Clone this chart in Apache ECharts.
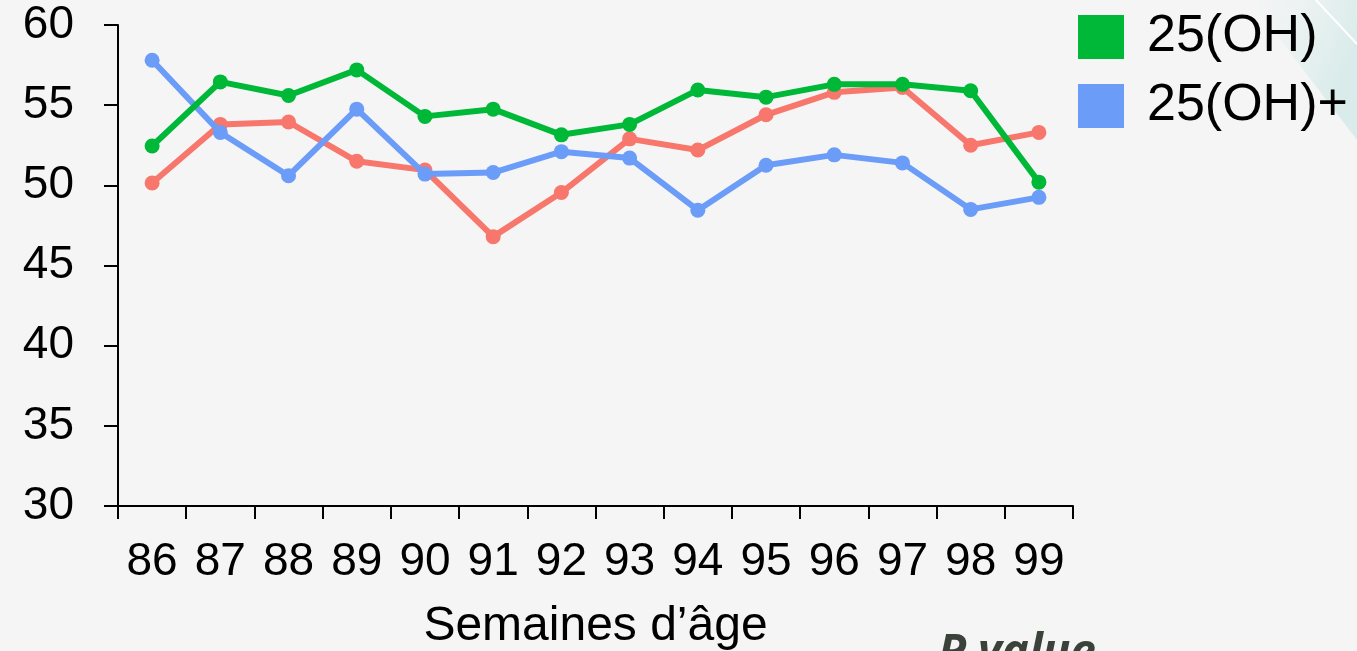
<!DOCTYPE html>
<html>
<head>
<meta charset="utf-8">
<script src="https://cdn.jsdelivr.net/npm/echarts@6/dist/echarts.min.js"></script>
<style>
  html, body { margin: 0; padding: 0; background: #f5f5f5; }
  #chart { width: 1357px; height: 651px; }
</style>
</head>
<body>
<div id="chart"></div>
<script>
// Semaines d'âge
const weeks = ['86', '87', '88', '89', '90', '91', '92', '93', '94', '95', '96', '97', '98', '99'];
const yTicks = [30, 35, 40, 45, 50, 55, 60];

const seriesOH = [52.45, 56.45, 55.6, 57.2, 54.3, 54.75, 53.15, 53.8, 55.95, 55.5, 56.3, 56.3, 55.9, 50.2];
const seriesOHPlus = [57.8, 53.3, 50.6, 54.75, 50.7, 50.8, 52.1, 51.7, 48.45, 51.25, 51.9, 51.4, 48.5, 49.25];
const seriesRed = [50.15, 53.8, 53.95, 51.5, 50.95, 46.8, 49.55, 52.9, 52.2, 54.4, 55.8, 56.1, 52.5, 53.3];

const FONT = '"Liberation Sans", Arial, sans-serif';
const INK = '#000000';

function line(name, data, color, z) {
  return {
    name,
    type: 'line',
    data,
    z,
    symbol: 'circle',
    symbolSize: 15,
    lineStyle: { width: 6, color },
    itemStyle: { color },
    emphasis: { disabled: true },
  };
}

const chart = echarts.init(document.getElementById('chart'), null, { renderer: 'canvas' });
chart.setOption({
  backgroundColor: '#f5f5f5',
  animation: false,
  textStyle: { fontFamily: FONT, color: INK },
  grid: { left: 118, right: 284, top: 25, bottom: 145, containLabel: false, outerBoundsMode: 'none' },
  legend: {
    data: ['25(OH)', '25(OH)+'],
    orient: 'vertical',
    left: 1073,
    top: 6,
    itemWidth: 46,
    itemHeight: 44,
    itemGap: 17,
    icon: 'rect',
    selectedMode: false,
    textStyle: { fontSize: 52, color: INK, fontFamily: FONT, padding: [0, 0, 0, 18] },
  },
  xAxis: {
    type: 'category',
    data: weeks,
    boundaryGap: true,
    name: 'Semaines d’âge',
    nameLocation: 'middle',
    nameGap: 97,
    nameTextStyle: { fontSize: 48, color: INK, fontFamily: FONT },
    axisLine: { lineStyle: { color: INK, width: 2 } },
    axisTick: { show: true, length: 13, lineStyle: { color: INK, width: 2 }, alignWithLabel: false },
    axisLabel: { fontSize: 46, color: INK, margin: 33, interval: 0 },
    splitLine: { show: false },
  },
  yAxis: {
    type: 'value',
    min: yTicks[0],
    max: yTicks[yTicks.length - 1],
    interval: 5,
    axisLine: { show: true, lineStyle: { color: INK, width: 2 } },
    axisTick: { show: true, length: 14, lineStyle: { color: INK, width: 2 } },
    axisLabel: { fontSize: 46, color: INK, margin: 44 },
    splitLine: { show: false },
  },
  series: [
    line('Contrôle', seriesRed, '#f8776d', 2),
    line('25(OH)+', seriesOHPlus, '#6b9cf8', 3),
    line('25(OH)', seriesOH, '#00b837', 4),
  ],
  graphic: [
    {
      type: 'polygon',
      silent: true,
      shape: { points: [[1250, 0], [1357, 0], [1357, 140]] },
      style: {
        fill: {
          type: 'linear', x: 0, y: 0, x2: 1, y2: 0.3,
          colorStops: [{ offset: 0, color: 'rgba(220,238,236,0)' }, { offset: 1, color: 'rgba(205,232,230,0.7)' }],
        },
      },
      z: -1,
    },
    {
      type: 'line',
      silent: true,
      shape: { x1: 1316, y1: 0, x2: 1357, y2: 44 },
      style: { stroke: '#ffffff', lineWidth: 2 },
    },
    {
      type: 'text',
      silent: true,
      left: 938,
      top: 631,
      style: {
        text: 'P value',
        fontSize: 46,
        fontWeight: 'bold',
        fontStyle: 'italic',
        fontFamily: '"Open Sans", "DejaVu Sans", sans-serif',
        fill: '#3a4239',
      },
    },
  ],
});
</script>
</body>
</html>
